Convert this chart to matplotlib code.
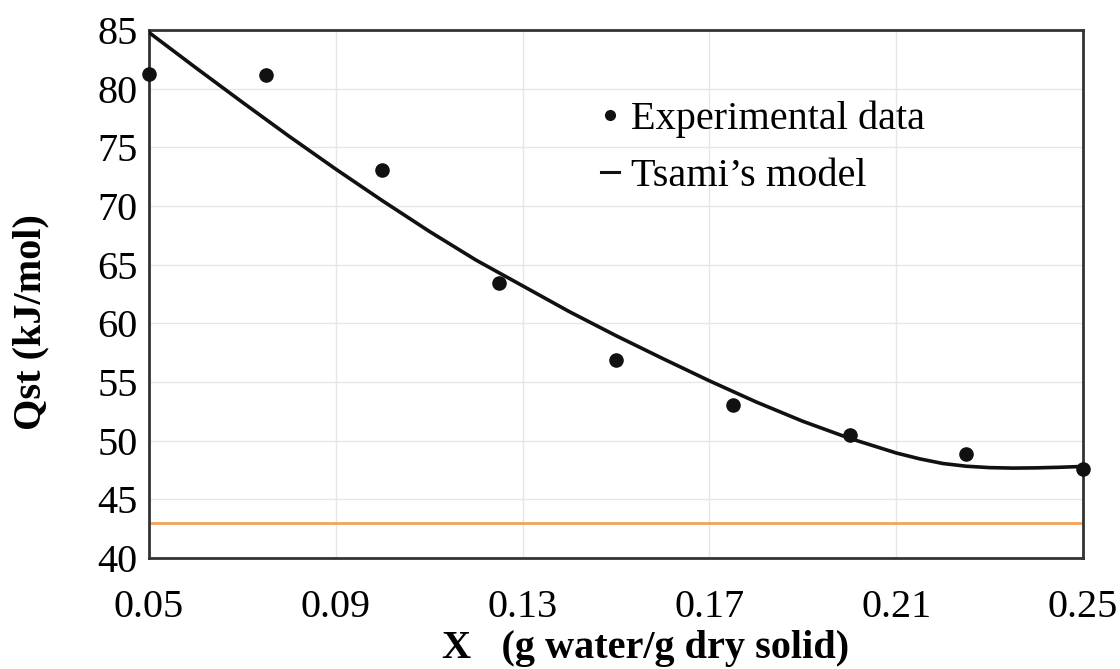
import numpy as np
import matplotlib
matplotlib.use("Agg")
import matplotlib.pyplot as plt
from matplotlib.lines import Line2D

# Experimental data points
x_exp = [0.05, 0.075, 0.10, 0.125, 0.15, 0.175, 0.20, 0.225, 0.25]
q_exp = [81.3, 81.2, 73.1, 63.4, 56.9, 53.0, 50.5, 48.9, 47.6]

# Tsami's model curve
x_model = [0.05, 0.06, 0.07, 0.08, 0.09, 0.10, 0.11, 0.12, 0.13, 0.14,
           0.15, 0.16, 0.17, 0.18, 0.19, 0.20, 0.21, 0.215, 0.22, 0.225,
           0.23, 0.235, 0.24, 0.245, 0.25]
q_model = [84.8, 81.8, 78.85, 75.95, 73.15, 70.45, 67.85, 65.4, 63.2, 61.0,
           58.95, 57.0, 55.1, 53.3, 51.65, 50.2, 48.95, 48.45, 48.05, 47.82,
           47.7, 47.66, 47.68, 47.73, 47.8]

# Orange reference line
ref_x = [0.05, 0.25]
ref_q = [43.0, 43.0]

xticks = [0.05, 0.09, 0.13, 0.17, 0.21, 0.25]
yticks = [40, 45, 50, 55, 60, 65, 70, 75, 80, 85]

plt.rcParams['font.family'] = ['Liberation Serif', 'DejaVu Serif']
plt.rcParams['font.size'] = 29

fig = plt.figure(figsize=(11.2, 6.69), dpi=100)
ax = fig.add_axes([0.133, 0.166, 0.834, 0.789])

ax.plot(ref_x, ref_q, color='#f5a25d', lw=2, zorder=2)
ax.plot(x_model, q_model, color='#111111', lw=2.6, zorder=3)
ax.scatter(x_exp, q_exp, s=90, color='#111111', zorder=4, clip_on=False)

ax.set_xlim(0.05, 0.25)
ax.set_ylim(40, 85)
ax.set_xticks(xticks)
ax.set_xticklabels([f"{t:.2f}" for t in xticks])
ax.set_yticks(yticks)
ax.tick_params(length=0)
ax.tick_params(axis='x', pad=22)
ax.tick_params(axis='y', pad=8)
ax.grid(True, color='#e6e6e6', lw=1)
ax.set_axisbelow(True)
for s in ax.spines.values():
    s.set_color('#333333')
    s.set_linewidth(2)

ax.set_xlabel("X   (g water/g dry solid)", fontweight='bold', va='center')
ax.xaxis.set_label_coords(0.532, -0.172)
ax.set_ylabel("Qst (kJ/mol)", fontweight='bold', va='center')
ax.yaxis.set_label_coords(-0.126, 0.447)

handles = [
    Line2D([], [], marker='o', color='#111111', ls='none', markersize=7),
    Line2D([], [], color='#111111', lw=2.2),
]
ax.legend(handles, ["Experimental data", "Tsami\u2019s model"],
          loc='upper left', bbox_to_anchor=(0.445, 0.935), frameon=False,
          handlelength=0.45, handletextpad=0.3, labelspacing=0.5,
          fontsize=29)

fig.savefig("out.png", dpi=100)
